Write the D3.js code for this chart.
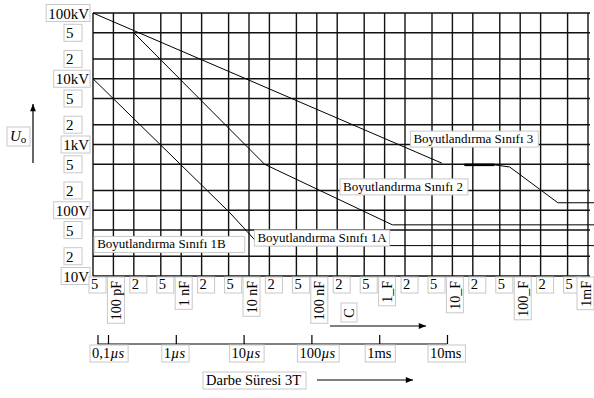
<!DOCTYPE html>
<html>
<head>
<meta charset="utf-8">
<script src="https://cdn.jsdelivr.net/npm/d3@7"></script>
<style>
  body { margin: 0; background: #fff; }
  svg text { font-family: "Liberation Serif", "Times New Roman", "DejaVu Serif", serif; fill: #000; }
</style>
</head>
<body>
<div id="chart"></div>
<script>
// capacitance axis (bottom)
var capValues = [5e-11, 1e-10, 2e-10, 5e-10, 1e-9, 2e-9, 5e-9, 1e-8, 2e-8, 5e-8, 1e-7, 2e-7,
                 5e-7, 1e-6, 2e-6, 5e-6, 1e-5, 2e-5, 5e-5, 1e-4, 2e-4, 5e-4, 1e-3];
var capLabels = ["5", "100 pF", "2", "5", "1 nF", "2", "5", "10 nF", "2", "5", "100 nF", "2",
                 "5", "1_F", "2", "5", "10_F", "2", "5", "100_F", "2", "5", "1mF"];

// voltage axis (left)
var voltValues = [1e5, 5e4, 2e4, 1e4, 5e3, 2e3, 1e3, 500, 200, 100, 50, 20, 10];
var voltLabels = ["100kV", "5", "2", "10kV", "5", "2", "1kV", "5", "2", "100V", "5", "2", "10V"];

// pulse duration axis
var timeValues = [1e-7, 1e-6, 1e-5, 1e-4, 1e-3, 1e-2];
var timeNums = ["0,1", "1", "10", "100", "1", "10"];
var timeUnits = ["µs", "µs", "µs", "µs", "ms", "ms"];

// curves: [capacitance, voltage]
var class3 = [[5e-11, 1e5], [7e-6, 520]];
var class3Bold = [[1.5e-5, 490], [4.2e-5, 490]];
var class3Tail = [[4.2e-5, 490], [7e-5, 455], [3.6e-4, 130], [1.25e-3, 130]];
var class2 = [[2e-10, 5e4], [1.7e-8, 500], [1.3e-6, 60], [1.25e-3, 60]];
var class1 = [[5e-11, 1e4], [5.2e-9, 92], [1.45e-8, 29], [1.25e-3, 29]];

var classNames = ["Boyutlandırma Sınıfı 3", "Boyutlandırma Sınıfı 2",
                  "Boyutlandırma Sınıfı 1A", "Boyutlandırma Sınıfı 1B"];
var classAnchor = [[2.4e-6, 1.6e3], [2.2e-7, 300], [1.2e-8, 50], [5.2e-11, 40]];
var classPad = [8, 8, 6, 22];

var width = 594, height = 398;

var svg = d3.select("#chart").append("svg")
    .attr("width", width)
    .attr("height", height);

var x = d3.scaleLog().domain([5e-11, 1e-3]).range([93, 588]);
var y = d3.scaleLog().domain([10, 1e5]).range([276, 13]);
var t = d3.scaleLog().domain([1e-7, 1e-2]).range([108, 447]);

// grid
svg.append("g").selectAll("line")
    .data(capValues)
  .enter().append("line")
    .attr("x1", function(d) { return x(d); })
    .attr("x2", function(d) { return x(d); })
    .attr("y1", y(1e5))
    .attr("y2", y(10))
    .style("stroke", "#111")
    .style("stroke-width", 1.4);

svg.append("g").selectAll("line")
    .data(voltValues)
  .enter().append("line")
    .attr("x1", x(5e-11))
    .attr("x2", x(1e-3) + 2)
    .attr("y1", function(d) { return y(d); })
    .attr("y2", function(d) { return y(d); })
    .style("stroke", "#111")
    .style("stroke-width", 1.4);

// curves
var line = d3.line()
    .x(function(d) { return x(d[0]); })
    .y(function(d) { return y(d[1]); });

[class3, class3Tail, class2, class1].forEach(function(c) {
  svg.append("path")
      .attr("d", line(c))
      .style("fill", "none")
      .style("stroke", "#000")
      .style("stroke-width", 1);
});
svg.append("path")
    .attr("d", line(class3Bold))
    .style("fill", "none")
    .style("stroke", "#000")
    .style("stroke-width", 2.5);

// label box helper
function box(g, bx, by, w, h) {
  g.append("rect")
      .attr("x", bx).attr("y", by)
      .attr("width", w).attr("height", h)
      .style("fill", "#fff")
      .style("stroke", "#c8c8c8")
      .style("stroke-width", 1);
}

// class labels
classNames.forEach(function(name, i) {
  var g = svg.append("g");
  var px = x(classAnchor[i][0]), py = y(classAnchor[i][1]);
  var txt = g.append("text")
      .attr("x", px + 3)
      .attr("y", py + 12)
      .style("font-size", "13px")
      .text(name);
  var w = txt.node().getComputedTextLength();
  g.insert("rect", "text")
      .attr("x", px).attr("y", py)
      .attr("width", w + classPad[i]).attr("height", 16)
      .style("fill", "#fff")
      .style("stroke", "#c8c8c8");
});

// left axis labels
voltLabels.forEach(function(lab, i) {
  var g = svg.append("g");
  var cy = y(voltValues[i]);
  var isUnit = lab.length > 1;
  var txt = g.append("text")
      .attr("y", cy + 5.5)
      .style("font-size", "15px")
      .text(lab);
  var w = txt.node().getComputedTextLength();
  var right = isUnit ? 90 : 82;
  var left = isUnit ? right - w - 3 : 64;
  txt.attr("x", left + 2);
  g.insert("rect", "text")
      .attr("x", left).attr("y", cy - 8.5)
      .attr("width", right - left).attr("height", 17)
      .style("fill", "#fff")
      .style("stroke", "#c8c8c8");
});

// bottom capacitance labels
capLabels.forEach(function(lab, i) {
  var g = svg.append("g");
  var cx = Math.min(x(capValues[i]), 583);
  if (lab.length === 1) {
    box(g, cx - 4, 277, 17, 16);
    g.append("text")
        .attr("x", cx - 2)
        .attr("y", 289)
        .style("font-size", "14.5px")
        .text(lab);
  } else {
    var txt = g.append("text")
        .attr("transform", "translate(" + (cx + 7.5) + ",0) rotate(-90)")
        .attr("y", 0)
        .style("font-size", "14px")
        .text(lab);
    var w = txt.node().getComputedTextLength();
    txt.attr("x", -(277 + w + 4));
    g.insert("rect", "text")
        .attr("x", cx - 6).attr("y", 277)
        .attr("width", 17).attr("height", w + 7)
        .style("fill", "#fff")
        .style("stroke", "#c8c8c8");
  }
});

// capacitance symbol and arrow
var sym = svg.append("g");
box(sym, 341, 303, 16, 19);
sym.append("text")
    .attr("transform", "translate(354,313) rotate(-90)")
    .attr("text-anchor", "middle")
    .style("font-size", "14px")
    .text("C");

svg.append("defs").append("marker")
    .attr("id", "arrow")
    .attr("viewBox", "0 0 10 10")
    .attr("refX", 10).attr("refY", 5)
    .attr("markerWidth", 9).attr("markerHeight", 6)
    .attr("orient", "auto")
  .append("path")
    .attr("d", "M0,1L10,5L0,9z")
    .style("fill", "#000");

svg.append("line")
    .attr("x1", 330).attr("x2", 426)
    .attr("y1", 326).attr("y2", 326)
    .style("stroke", "#000")
    .style("stroke-width", 1.2)
    .attr("marker-end", "url(#arrow)");

// Uo label and arrow
var uo = svg.append("g");
box(uo, 7, 127, 23, 19);
var uoText = uo.append("text")
    .attr("x", 10).attr("y", 141)
    .style("font-size", "15px");
uoText.append("tspan").style("font-style", "italic").text("U");
uoText.append("tspan").attr("dy", 2).style("font-size", "11px").text("o");

svg.append("line")
    .attr("x1", 33).attr("x2", 33)
    .attr("y1", 163).attr("y2", 104)
    .style("stroke", "#000")
    .style("stroke-width", 1.2)
    .attr("marker-end", "url(#arrow)");

// pulse duration axis
var tAxis = d3.axisTop(t)
    .tickValues([7e-8].concat(timeValues))
    .tickSize(9)
    .tickFormat("");
var tg = svg.append("g")
    .attr("transform", "translate(0,344)")
    .call(tAxis);
tg.select(".domain").attr("d", "M" + t(7e-8) + ",0H" + t(1e-2))
    .style("stroke-width", 1.2);
tg.selectAll(".tick line").style("stroke-width", 1.2);

timeValues.forEach(function(v, i) {
  var g = svg.append("g");
  var txt = g.append("text")
      .attr("y", 358)
      .style("font-size", "14.5px");
  txt.append("tspan").text(timeNums[i]);
  txt.append("tspan").style("font-style", timeUnits[i] === "µs" ? "italic" : "normal").text(timeUnits[i]);
  var w = txt.node().getComputedTextLength();
  var left = i === 0 ? t(v) - 18 : t(v) - 14;
  if (i === timeValues.length - 1) left = t(v) - 19;
  txt.attr("x", left + 2);
  g.insert("rect", "text")
      .attr("x", left).attr("y", 345)
      .attr("width", w + 6).attr("height", 17)
      .style("fill", "#fff")
      .style("stroke", "#c8c8c8");
});

// title of pulse axis
var tt = svg.append("g");
var ttText = tt.append("text")
    .attr("x", 206).attr("y", 385)
    .style("font-size", "14.5px")
    .text("Darbe Süresi 3T");
var ttw = ttText.node().getComputedTextLength();
tt.insert("rect", "text")
    .attr("x", 203).attr("y", 372)
    .attr("width", ttw + 8).attr("height", 17)
    .style("fill", "#fff")
    .style("stroke", "#c8c8c8");

svg.append("line")
    .attr("x1", 317).attr("x2", 413)
    .attr("y1", 380).attr("y2", 380)
    .style("stroke", "#000")
    .style("stroke-width", 1.2)
    .attr("marker-end", "url(#arrow)");
</script>
</body>
</html>
